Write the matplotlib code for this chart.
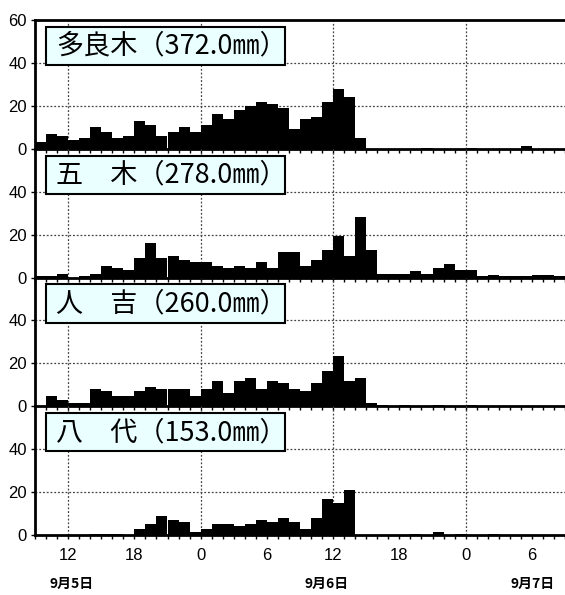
import matplotlib
matplotlib.use("Agg")
import matplotlib.pyplot as plt
from matplotlib.patches import Rectangle
import numpy as np

plt.rcParams['font.family'] = ['Liberation Sans Narrow', 'Liberation Sans', 'DejaVu Sans']

# hourly rainfall (mm), 9/5 09:00 -> 9/7 09:00
taragi = [3, 7, 6, 4, 5, 10, 8, 5, 6, 13, 11, 6, 8, 10, 8, 11, 16, 14, 18, 20,
          22, 21, 19, 9, 14, 15, 22, 28, 24, 5, 0, 0, 0, 0, 0, 0.5, 0, 0, 0, 0.5,
          0, 0, 0, 0, 1.5, 0, 0, 0]
itsuki = [0.5, 0.5, 1.5, 0, 0.5, 1.5, 5.5, 4.5, 3.5, 9, 16, 9, 10, 8, 7, 7, 5.5, 4.5, 5.5, 4.5,
          7, 4.5, 12, 12, 5.5, 8, 13, 19.5, 10, 28, 13, 1.5, 1.5, 1.5, 3, 1.5, 4.5, 6.5, 3.5, 3.5,
          0.5, 1, 0.5, 0.5, 0.5, 1, 1, 0.5]
hitoyoshi = [0, 5, 3, 1.5, 1.5, 8, 7, 5, 5, 7, 9, 8, 8, 8, 5, 8, 12, 6, 12, 13,
             8, 12, 11, 8, 7, 11, 16.5, 23.5, 12, 13, 1.5, 0.5, 0, 0.5, 0, 0, 0.5, 0, 0, 0.5,
             0, 0, 0, 0, 0, 0, 0, 0]
yatsushiro = [0, 0, 0, 0, 0, 0.5, 0.5, 0.5, 0, 3, 5, 9, 7, 6, 1.5, 3, 5, 5, 4, 5,
              7, 6, 8, 6, 3, 8, 17, 15, 21, 0, 0, 0, 0, 0, 0.5, 0, 1.5, 0, 0.5, 0,
              0, 0.5, 0, 0, 0, 0, 0, 0]

stations = ["多良木（372.0㎜）", "五　木（278.0㎜）", "人　吉（260.0㎜）", "八　代（153.0㎜）"]
series = [taragi, itsuki, hitoyoshi, yatsushiro]

tick_pos = [3, 9, 15, 21, 27, 33, 39, 45]
tick_labels = ["12", "18", "0", "6", "12", "18", "0", "6"]
grid_x = [3, 15, 27, 39]
dates = ["9月5日", "9月6日", "9月7日"]
date_x = [72, 327, 533]

W, H = 565, 595
fig = plt.figure(figsize=(W / 100, H / 100), dpi=100)

left = 35 / W
width = 1 - left
top_px = 20
panel_h = 128.75
cjk = ['Noto Sans CJK JP', 'DejaVu Sans']

hours = np.arange(48)
for i, (name, vals) in enumerate(zip(stations, series)):
    y0 = top_px + panel_h * (i + 1)
    ax = fig.add_axes([left, 1 - y0 / H, width, panel_h / H])
    ax.patch.set_visible(False)
    ax.bar(hours, vals, width=1.0, align='edge', color='black', zorder=3)
    ax.set_xlim(0, 48)
    ax.set_ylim(0, 60)
    if i == 0:
        ax.set_yticks([0, 20, 40, 60])
    else:
        ax.set_yticks([0, 20, 40])
    for g in [20, 40]:
        ax.axhline(g, color='#444444', lw=0.9, ls=(0, (1.5, 1.5)), zorder=1)
    for g in grid_x:
        ax.axvline(g, color='#444444', lw=0.9, ls=(0, (1.5, 1.5)), zorder=1)
    ax.set_xticks(tick_pos)
    ax.set_xticks(np.arange(49), minor=True)
    if i == 3:
        ax.set_xticklabels(tick_labels, fontsize=12)
    else:
        ax.set_xticklabels([])
    ax.tick_params(axis='x', which='both', direction='out', length=3, width=1, pad=6)
    ax.tick_params(axis='y', direction='out', length=3, width=1, labelsize=12, pad=3)
    ax.spines['right'].set_visible(False)
    ax.spines['top'].set_visible(i == 0)
    for s in ['left', 'bottom', 'top']:
        ax.spines[s].set_linewidth(2)
    ax.add_patch(Rectangle((0.021, 0.65), 0.451, 0.296, transform=ax.transAxes,
                           facecolor='#eaffff', edgecolor='black', lw=1.5, zorder=5))
    ax.text(0.040, 0.795, name, transform=ax.transAxes, ha='left', va='center',
            fontsize=19.5, family=cjk, zorder=6)

for d, x in zip(dates, date_x):
    fig.text(x / W, 1 - 584 / H, d, ha='center', va='center', fontsize=10,
             family=cjk, weight='bold')

fig.savefig("out.png", dpi=100)
